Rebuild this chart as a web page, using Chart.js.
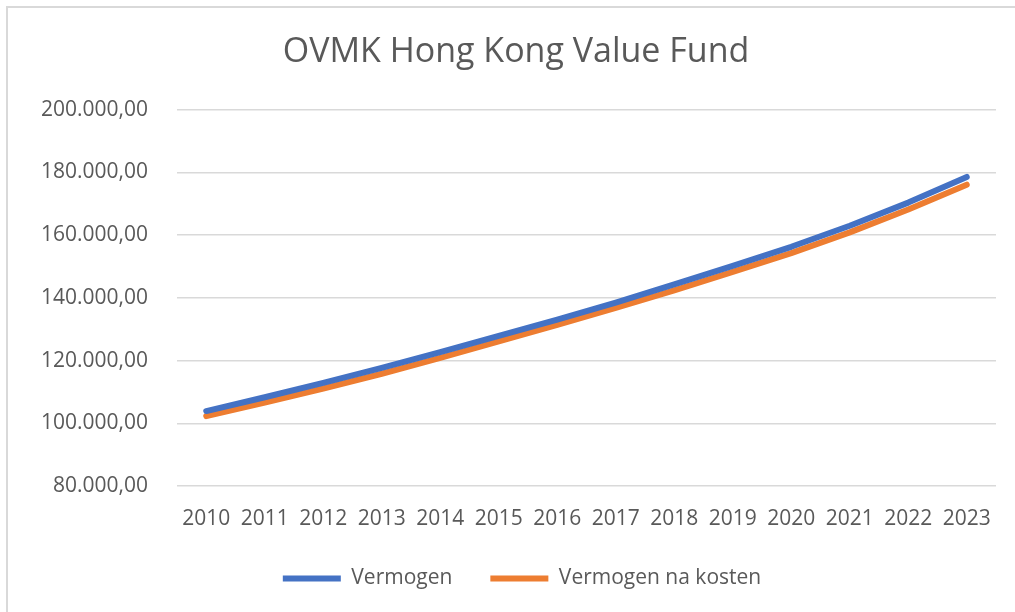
<!DOCTYPE html>
<html>
<head>
    <meta charset="UTF-8">
    <title>OVMK Hong Kong Value Fund</title>
    <script src="https://cdn.jsdelivr.net/npm/chart.js"></script>
    <style>
        html, body { margin: 0; padding: 0; background: #fff; overflow: hidden; }
        .frame {
            position: absolute; left: 6px; top: 6px;
            width: 1020px; height: 620px;
            border: 2px solid #d9d9d9;
        }
        .chart-container {
            position: absolute; left: 0; top: 0;
            width: 1015px; height: 612px;
        }
    </style>
</head>
<body>
<div class="frame"></div>
<div class="chart-container">
    <canvas id="fundChart" width="1015" height="612"></canvas>
</div>
<script>
    // data
    const years = ['2010', '2011', '2012', '2013', '2014', '2015', '2016',
                   '2017', '2018', '2019', '2020', '2021', '2022', '2023'];
    const vermogen = [103900, 108300, 112900, 117700, 122700, 127900, 133100,
                      138500, 144300, 150200, 156300, 163000, 170400, 178600];
    const vermogenNaKosten = [102300, 106600, 111100, 115800, 120900, 126100, 131400,
                              136800, 142400, 148300, 154300, 160900, 168200, 176100];
    const yTicks = [80000, 100000, 120000, 140000, 160000, 180000, 200000];

    const textColor = '#595959';
    const font = "'Open Sans', sans-serif";

    // Dutch number format, e.g. 200.000,00
    function formatNl(v) {
        const parts = Math.round(v).toString().replace(/\B(?=(\d{3})+(?!\d))/g, '.');
        return parts + ',00';
    }

    // title and legend are centred on the frame in the original, not on the plot box
    const shiftBlocks = {
        id: 'shiftBlocks',
        afterLayout(chart) {
            chart.titleBlock.left += 18;
            chart.titleBlock.right += 18;
            chart.legend.left += 24;
            chart.legend.right += 24;
        }
    };

    new Chart(document.getElementById('fundChart'), {
        type: 'line',
        data: {
            labels: years,
            datasets: [{
                label: 'Vermogen',
                data: vermogen,
                borderColor: '#4472C4',
                backgroundColor: '#4472C4',
                borderWidth: 6,
                pointRadius: 0,
                borderCapStyle: 'round',
                borderJoinStyle: 'round',
                pointStyle: 'line'
            }, {
                label: 'Vermogen na kosten',
                data: vermogenNaKosten,
                borderColor: '#ED7D31',
                backgroundColor: '#ED7D31',
                borderWidth: 6,
                pointRadius: 0,
                borderCapStyle: 'round',
                borderJoinStyle: 'round',
                pointStyle: 'line'
            }]
        },
        options: {
            responsive: false,
            animation: false,
            layout: { padding: { left: 0, right: 19, top: 0, bottom: 13 } },
            plugins: {
                title: {
                    display: true,
                    text: 'OVMK Hong Kong Value Fund',
                    color: textColor,
                    font: { family: font, size: 34, weight: 'normal' },
                    padding: { top: 32, bottom: 37 }
                },
                legend: {
                    position: 'bottom',
                    labels: {
                        color: textColor,
                        font: { family: font, size: 21 },
                        usePointStyle: true,
                        pointStyleWidth: 58,
                        padding: 38
                    }
                },
                tooltip: { enabled: false }
            },
            scales: {
                x: {
                    offset: true,
                    afterFit: (scale) => { scale.height = 44; },
                    grid: { display: false },
                    border: { display: false },
                    ticks: {
                        color: textColor,
                        font: { family: font, size: 21 },
                        padding: 12,
                        maxRotation: 0,
                        autoSkip: false
                    }
                },
                y: {
                    min: 80000,
                    max: 200000,
                    afterFit: (scale) => { scale.width = 177; },
                    afterBuildTicks: (scale) => {
                        scale.ticks = yTicks.map(v => ({ value: v }));
                    },
                    grid: { color: '#d9d9d9', lineWidth: 1.5, drawTicks: false },
                    border: { display: false },
                    ticks: {
                        color: textColor,
                        font: { family: font, size: 21 },
                        padding: 29,
                        callback: (v) => formatNl(v)
                    }
                }
            }
        },
        plugins: [shiftBlocks]
    });
</script>
</body>
</html>
